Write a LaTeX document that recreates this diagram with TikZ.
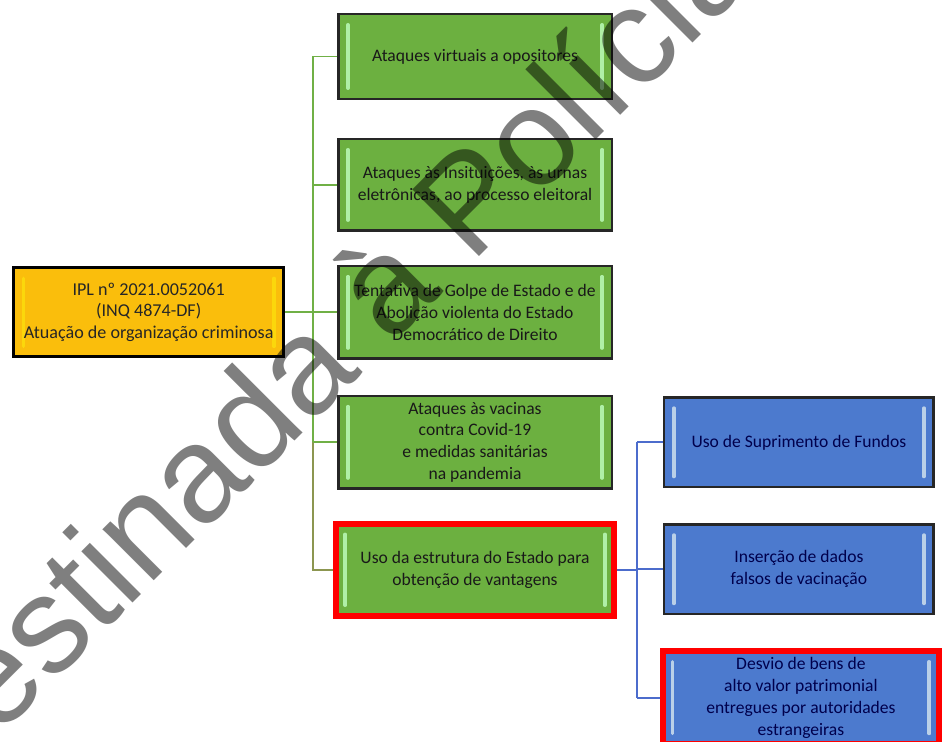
\documentclass[tikz,border=0pt]{standalone}
\usepackage{fontspec}
\setmainfont{Carlito}
\newfontfamily\markfont{Liberation Sans}
\usetikzlibrary{positioning}

\definecolor{ipl}{RGB}{250,190,12}
\definecolor{leaf}{RGB}{108,176,64}
\definecolor{sky}{RGB}{76,122,206}
\definecolor{leafline}{RGB}{112,176,70}
\definecolor{oliveline}{RGB}{140,150,80}
\definecolor{skyline}{RGB}{76,108,204}

\begin{document}
\begin{tikzpicture}[
      x=0.02cm, y=-0.02cm,
      bevel/.style={path picture={
        \draw[#1, line width=2pt, line cap=round]
          ([xshift=5.5pt,yshift=6pt]path picture bounding box.south west) --
          ([xshift=5.5pt,yshift=-6pt]path picture bounding box.north west);
        \draw[#1, line width=2pt, line cap=round]
          ([xshift=-5.5pt,yshift=6pt]path picture bounding box.south east) --
          ([xshift=-5.5pt,yshift=-6pt]path picture bounding box.north east);}},
      mainbox/.style={rectangle, draw=black, line width=1.6pt, fill=ipl, bevel=yellow!50!ipl,
        minimum width=5.4cm, align=center, text=black!85,
        font=\fontsize{10.3}{12.5}\selectfont},
      topic/.style={rectangle, draw=black!85, line width=1.4pt, fill=leaf, bevel=green!25!white!80!leaf,
        minimum width=5.47cm, align=center, text=black!90,
        font=\fontsize{10}{12.5}\selectfont},
      subtopic/.style={rectangle, draw=black!85, line width=1.4pt, fill=sky, bevel=cyan!15!white!75!sky,
        minimum width=5.39cm, minimum height=1.79cm, align=center, text=blue!30!black,
        font=\fontsize{10}{12.5}\selectfont},
      marked/.style={draw=red, line width=3.4pt},
      link/.style={leafline, line width=1.1pt},
      sublink/.style={skyline, line width=1.1pt}
    ]
    \useasboundingbox (0,0) rectangle (942,742);

    % green column
    \node [topic, minimum height=1.69cm] (g1) at (475,56.5) {Ataques virtuais a opositores};
    \node [topic, minimum height=1.83cm, below=0.76cm of g1] (g2) {Ataques às Insituições, às urnas\\eletrônicas, ao processo eleitoral};
    \node [topic, minimum height=1.85cm, below=0.66cm of g2] (g3) {Tentativa de Golpe de Estado e de\\Abolição violenta do Estado\\Democrático de Direito};
    \node [topic, minimum height=1.81cm, below=0.7cm of g3] (g4) {Ataques às vacinas\\contra Covid-19\\e medidas sanitárias\\na pandemia};
    \node [topic, marked, minimum width=5.58cm, minimum height=1.84cm, below=0.62cm of g4] (g5) {Uso da estrutura do Estado para\\obtenção de vantagens};

    % root
    \node [mainbox, minimum height=1.78cm, left=1.04cm of g3] (ipl) {IPL nº 2021.0052061\\(INQ 4874-DF)\\Atuação de organização criminosa};

    % blue column
    \node [subtopic, right=1.0cm of g4] (b1) {Uso de Suprimento de Fundos};
    \node [subtopic, below=0.7cm of b1] (b2) {Inserção de dados\\falsos de vacinação};
    \node [subtopic, marked, minimum width=5.52cm, minimum height=1.78cm, below=0.66cm of b2, xshift=0.04cm] (b3) {Desvio de bens de\\alto valor patrimonial\\entregues por autoridades\\estrangeiras};

    % connectors
    \coordinate (trunk) at (313,313);
    \coordinate (branch) at (637,571);
    \draw [link] (ipl.east) -- (trunk |- ipl.east);
    \draw [link] (trunk |- g1.west) -- (trunk |- g4.west);
    \draw [oliveline, line width=1.1pt] (trunk |- g4.west) -- (trunk |- g5.west) -- (g5.west);
    \foreach \g in {g1,g2,g3,g4}
      \draw [link] (\g.west) -- (trunk |- \g.west);
    \draw [sublink] (g5.east) -- (branch |- g5.east);
    \draw [sublink] (branch |- b1.west) -- (branch |- b3.west);
    \foreach \b in {b1,b2,b3}
      \draw [sublink] (\b.west) -- (branch |- \b.west);

    % watermark
    \begin{scope}
      \clip (0,0) rectangle (942,742);
      \node [anchor=mid west, rotate=45, inner sep=0pt, text=black, text opacity=0.5,
        font=\markfont\fontsize{78}{78}\selectfont] (mark) at (-76,806) {Destinada à Polícia};
    \end{scope}
  \end{tikzpicture}
\end{document}
